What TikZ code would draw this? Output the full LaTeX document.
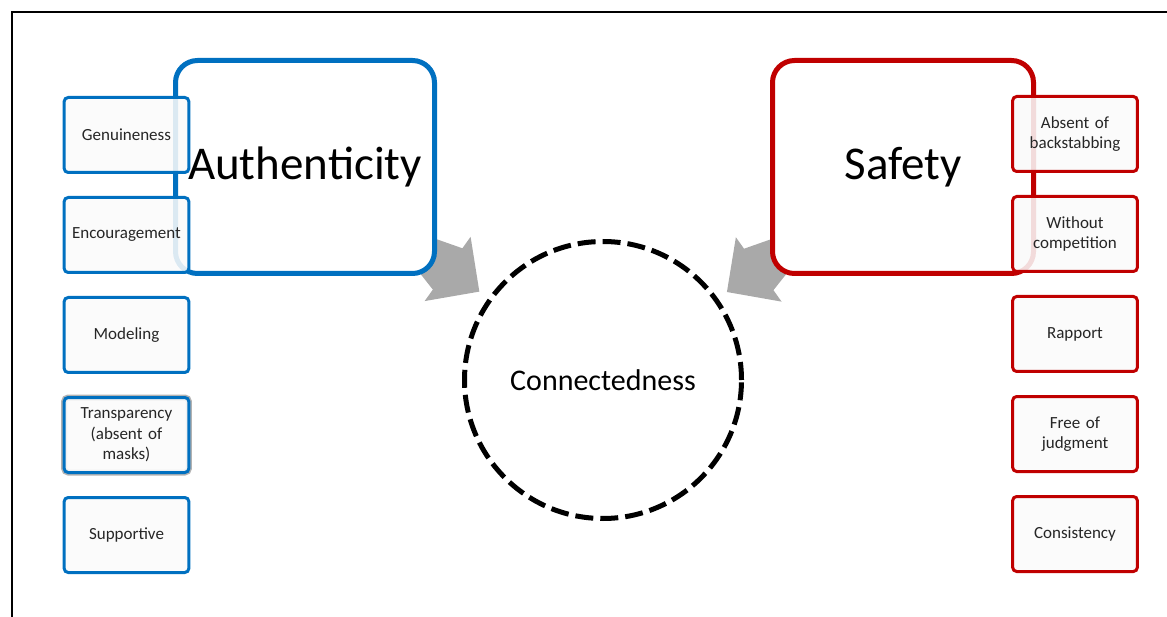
\documentclass[tikz,border=0pt]{standalone}
\usepackage{fontspec}
\setmainfont{Carlito}
\usepackage{tikz}
\usetikzlibrary{positioning}
\usetikzlibrary{calc,backgrounds}

\definecolor{authblue}{HTML}{0070C0}
\definecolor{safered}{HTML}{C00000}
\definecolor{arrowgray}{HTML}{A9A9A9}
\definecolor{boxfill}{HTML}{FAFAFA}
\definecolor{itemtext}{HTML}{262626}

\begin{document}
\begin{tikzpicture}[x = 1pt, y = 1pt, node distance = 100pt, on grid,
                    big/.style   = {rectangle,
                                    rounded corners = 22pt,
                                    fill = white,
                                    line width = 5pt,
                                    minimum width = 259pt,
                                    minimum height = 213pt,
                                    font = \fontsize{47}{56}\selectfont},
                    item/.style  = {rectangle,
                                    rounded corners = 4pt,
                                    fill = boxfill,
                                    fill opacity = 0.88,
                                    text opacity = 1,
                                    line width = 3pt,
                                    minimum width = 122pt,
                                    minimum height = 75pt,
                                    text width = 118pt,
                                    align = center,
                                    text = itemtext,
                                    font = \fontsize{17}{20.5}\selectfont}]

\useasboundingbox (0,0) rectangle (1167,-617);
\clip (0,0) rectangle (1167,-617);
\draw[line width = 1.6pt] (12,-12) rectangle (1190,-640);

\node[big, draw = authblue] (auth) at (305,-167) {Authenticity};
\node[big, draw = safered, minimum width = 261pt] (safe) at (903,-167) {Safety};

\node[circle, draw, line width = 5pt, dash pattern = on 18pt off 7pt,
      minimum size = 277pt, font = \fontsize{30}{36}\selectfont] (conn) at (603,-380) {Connectedness};

% block arrows from the box centres towards the circle, kept under the boxes
\begin{scope}[on background layer]
\foreach \src in {auth, safe} {
  \coordinate (tip)  at ($(conn)!152pt!(\src.center)$);
  \coordinate (base) at ($(tip)!39pt!(\src.center)$);
  \fill[arrowgray] (tip) -- ($(base)!39.5pt!90:(tip)$) -- ($(base)!25.4pt!90:(tip)$)
        -- ($(\src.center)!25.4pt!-90:(tip)$) -- ($(\src.center)!25.4pt!90:(tip)$)
        -- ($(base)!25.4pt!-90:(tip)$) -- ($(base)!39.5pt!-90:(tip)$) -- cycle;
}
\end{scope}

\node[item, draw = authblue] (a1) at (126.5,-135) {Genuineness};
\node[item, draw = authblue] (a2) [below = of a1] {Encouragement};
\node[item, draw = authblue] (a3) [below = of a2] {Modeling};
\node[item, draw = authblue, preaction = {draw = gray!60, line width = 6pt}]
      (a4) [below = of a3] {Transparency\\(absent of\\masks)};
\node[item, draw = authblue] (a5) [below = of a4] {Supportive};

\node[item, draw = safered] (s1) at (1075,-134) {Absent of\\backstabbing};
\node[item, draw = safered] (s2) [below = of s1] {Without\\competition};
\node[item, draw = safered] (s3) [below = of s2] {Rapport};
\node[item, draw = safered] (s4) [below = of s3] {Free of\\judgment};
\node[item, draw = safered] (s5) [below = of s4] {Consistency};

\end{tikzpicture}
\end{document}
